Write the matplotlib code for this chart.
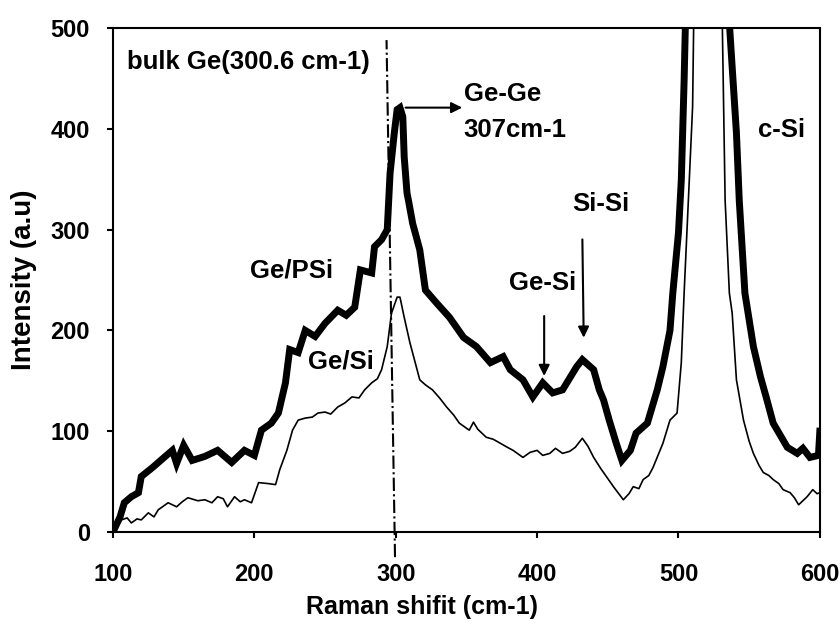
import numpy as np
import matplotlib
matplotlib.use('Agg')
import matplotlib.pyplot as plt

plt.rcParams['font.family'] = ['Liberation Sans', 'DejaVu Sans']
plt.rcParams['font.weight'] = 'bold'

# --- Ge/PSi spectrum (thick trace) ---
psi_x = [100, 105, 108, 113, 118, 120, 128, 137, 142, 145, 150, 156, 165, 174,
         184, 193, 200, 205, 212, 217, 222, 225, 231, 236, 243, 250, 259, 265,
         271, 275, 283, 285, 290, 294, 296, 299, 301, 303, 305, 306, 308, 309,
         312, 317, 321, 329, 338, 348, 357, 367, 376, 381, 390, 397, 404, 411,
         418, 428, 432, 440, 444, 447, 451, 456, 460, 466, 470, 478, 485, 489,
         494, 496, 500, 502, 504, 505, 520, 536, 538, 541, 543, 547, 553, 558,
         562, 567, 577, 584, 588, 593, 599, 600]
psi_y = [0, 15, 29, 35, 39, 55, 64, 75, 81, 68, 86, 71, 75, 81,
         69, 81, 76, 101, 108, 118, 148, 181, 178, 200, 194, 207, 220, 215,
         223, 260, 257, 283, 290, 300, 356, 396, 419, 421, 412, 372, 336, 329,
         306, 280, 240, 227, 213, 193, 184, 168, 174, 161, 151, 134, 148, 138,
         141, 164, 171, 161, 141, 131, 111, 88, 71, 81, 98, 108, 141, 164,
         200, 237, 297, 349, 448, 510, 1500, 505, 461, 396, 329, 237, 184, 154,
         134, 108, 84, 78, 83, 74, 76, 100]

# --- Ge/Si spectrum (thin trace) ---
si_x = [100, 106, 110, 113, 117, 120, 125, 129, 132, 136, 139, 145, 149, 153,
        160, 165, 170, 174, 178, 181, 186, 190, 193, 198, 203, 210, 215, 218,
        223, 227, 231, 236, 241, 245, 250, 254, 259, 264, 269, 274, 278, 283,
        287, 290, 294, 297, 301, 303, 306, 310, 317, 321, 326, 331, 336, 341,
        345, 352, 355, 358, 364, 369, 374, 379, 383, 390, 395, 400, 404, 409,
        413, 418, 423, 427, 432, 436, 440, 445, 449, 454, 461, 465, 468, 472,
        475, 479, 482, 489, 494, 499, 502, 504, 507, 510, 520, 531, 533, 536,
        538, 541, 546, 550, 553, 557, 560, 564, 567, 571, 574, 579, 582, 585,
        588, 591, 595, 598, 600]
si_y = [0, 12, 14, 9, 13, 12, 19, 15, 22, 26, 29, 25, 30, 34,
        31, 32, 29, 35, 33, 25, 35, 30, 32, 29, 49, 48, 47, 62,
        81, 101, 111, 113, 114, 118, 119, 117, 124, 128, 134, 133, 141, 148,
        152, 161, 184, 217, 233, 233, 213, 188, 151, 146, 141, 133, 124, 116,
        108, 101, 109, 102, 94, 92, 88, 84, 81, 74, 79, 81, 76, 78,
        83, 78, 80, 84, 93, 85, 74, 63, 55, 45, 32, 38, 45, 43,
        52, 56, 64, 88, 111, 118, 168, 237, 329, 422, 1500, 505, 329, 237,
        217, 151, 111, 90, 78, 66, 59, 56, 52, 48, 42, 39, 34, 27,
        31, 35, 42, 38, 39]

# bulk Ge reference line (hand drawn, slightly tilted)
bulk_x = [299.5, 293.5]
bulk_y = [-25, 488]

fig = plt.figure(figsize=(8.4, 6.25), dpi=100)
ax = fig.add_axes([0.1345, 0.1488, 0.8415, 0.8064])

ax.plot(psi_x, psi_y, color='black', linewidth=5, solid_joinstyle='miter')
ax.plot(si_x, si_y, color='black', linewidth=1.2)
ax.plot(bulk_x, bulk_y, color='black', linewidth=1.5, linestyle='-.',
        clip_on=False)

ax.set_xlim(100, 600)
ax.set_ylim(0, 500)
ax.set_xticks([100, 200, 300, 400, 500, 600])
ax.set_yticks([0, 100, 200, 300, 400, 500])
ax.tick_params(axis='both', labelsize=17, width=1.5, length=4.5, direction='out',
               top=False, right=False)
ax.tick_params(axis='x', pad=18)
ax.tick_params(axis='y', pad=12)
for s in ax.spines.values():
    s.set_linewidth(1.5)
for lab in ax.get_xticklabels() + ax.get_yticklabels():
    lab.set_fontweight('bold')

ax.set_xlabel('Raman shifit (cm-1)', fontsize=18, fontweight='bold')
ax.set_ylabel('Intensity (a.u)', fontsize=20, fontweight='bold')
ax.xaxis.set_label_coords(0.437, -0.125)
ax.yaxis.set_label_coords(-0.107, 0.5)

fs = 18.5
ax.text(110, 466, 'bulk Ge(300.6 cm-1)', fontsize=fs, fontweight='bold', va='center')
ax.text(348, 435, 'Ge-Ge', fontsize=fs, fontweight='bold', va='center')
ax.text(348, 399, '307cm-1', fontsize=fs, fontweight='bold', va='center')
ax.text(445, 325, 'Si-Si', fontsize=fs, fontweight='bold', va='center', ha='center')
ax.text(404, 247, 'Ge-Si', fontsize=fs, fontweight='bold', va='center', ha='center')
ax.text(573, 399, 'c-Si', fontsize=fs, fontweight='bold', va='center', ha='center')
ax.text(226, 259, 'Ge/PSi', fontsize=fs, fontweight='bold', va='center', ha='center')
ax.text(261, 169, 'Ge/Si', fontsize=fs, fontweight='bold', va='center', ha='center')

arrow = dict(arrowstyle='-|>', color='black', lw=1.5, mutation_scale=16)
ax.annotate('', xy=(349, 421), xytext=(305, 421), arrowprops=arrow)
ax.annotate('', xy=(433, 190), xytext=(432, 293), arrowprops=arrow)
ax.annotate('', xy=(405, 152), xytext=(405, 217), arrowprops=arrow)

fig.savefig('out.png', dpi=100)
